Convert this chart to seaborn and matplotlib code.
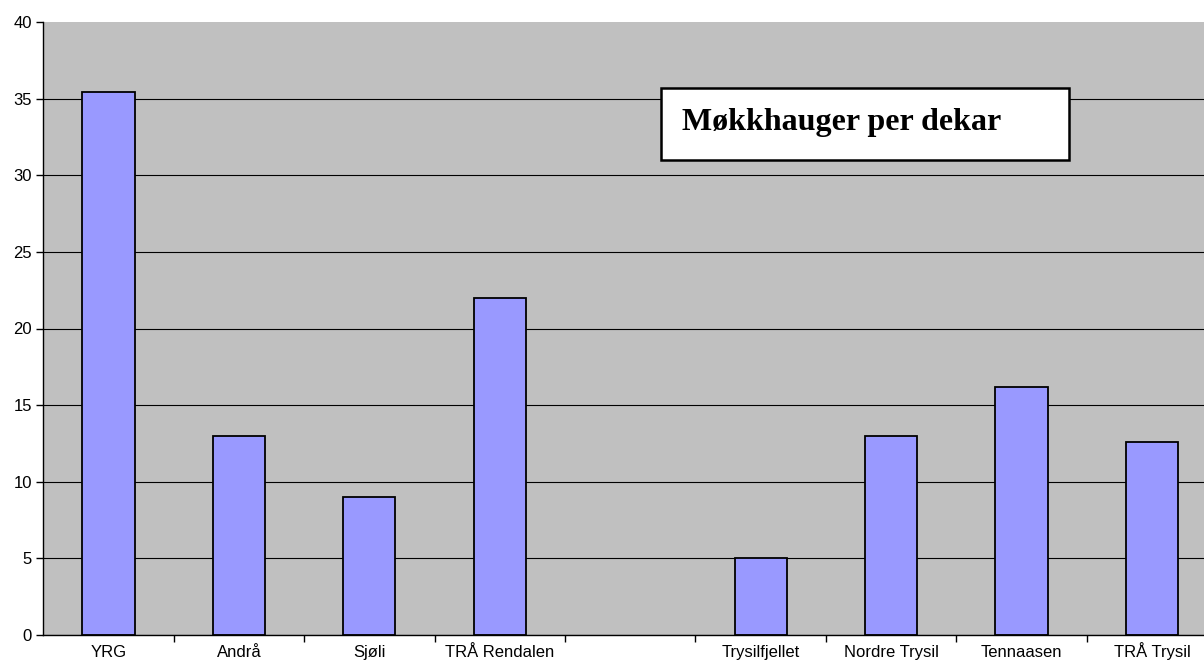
import matplotlib
matplotlib.use("Agg")
import matplotlib.pyplot as plt
import matplotlib.patches as mpatches
import numpy as np
import pandas as pd
import seaborn as sns

# data
omrader = ["YRG", "Andrå", "Sjøli", "TRÅ Rendalen", "",
           "Trysilfjellet", "Nordre Trysil", "Tennaasen", "TRÅ Trysil"]
hauger = [35.4, 13.0, 9.0, 22.0, np.nan, 5.0, 13.0, 16.2, 12.6]
y_ticks = [0, 5, 10, 15, 20, 25, 30, 35, 40]
tittel = "Møkkhauger per dekar"

df = pd.DataFrame({"omrade": omrader, "hauger": hauger}).dropna()

sns.set_style("white")
plt.rcParams["font.family"] = ["Liberation Sans", "DejaVu Sans"]

fig = plt.figure(figsize=(12.04, 6.63), dpi=100)
ax = fig.add_axes([43.2 / 1204, 28 / 663, 1174 / 1204, 613 / 663])
ax.set_facecolor("#C0C0C0")

sns.barplot(data=df, x="omrade", y="hauger", order=omrader, color="#9999FF",
            width=0.4, edgecolor="black", linewidth=1.3, saturation=1, ax=ax)

ax.set_ylim(0, 40)
ax.set_xlim(-0.5, len(omrader) - 0.5)
ax.set_yticks(y_ticks)
ax.set_yticklabels([str(t) for t in y_ticks])
ax.grid(axis="y", color="black", linewidth=0.8)
ax.set_axisbelow(True)
ax.get_ygridlines()[-1].set_visible(False)

# tick marks between categories (minor), labels centred (major, no mark)
ax.set_xticks(np.arange(len(omrader) - 1) + 0.5, minor=True)
ax.set_xticks(np.arange(len(omrader)))
ax.set_xticklabels(omrader)
ax.tick_params(axis="x", which="major", length=0, pad=15.5, labelsize=12, labelcolor="black")
ax.tick_params(axis="x", which="minor", direction="out", length=5, width=1, color="black", bottom=True)
ax.tick_params(axis="y", direction="out", length=5, width=1, color="black", left=True, pad=3,
               labelsize=12, labelcolor="black")
ax.grid(axis="x", which="both", visible=False)
ax.set_xlabel("")
ax.set_ylabel("")

for side in ["top", "right"]:
    ax.spines[side].set_visible(False)
for side in ["left", "bottom"]:
    ax.spines[side].set_color("black")
    ax.spines[side].set_linewidth(1)

# title box
boks = mpatches.Rectangle((661 / 1204, 1 - 160 / 663), 408 / 1204, 72 / 663,
                          transform=fig.transFigure, facecolor="white",
                          edgecolor="black", linewidth=1.8, zorder=5)
fig.patches.append(boks)
fig.text(682 / 1204, 1 - 130 / 663, tittel, fontsize=23, fontweight="bold", color="black",
         family=["Liberation Serif", "DejaVu Serif"], va="baseline", ha="left", zorder=6)

for lab in ax.get_xticklabels():
    lab.set_verticalalignment("baseline")

fig.savefig("out.png", dpi=100)
